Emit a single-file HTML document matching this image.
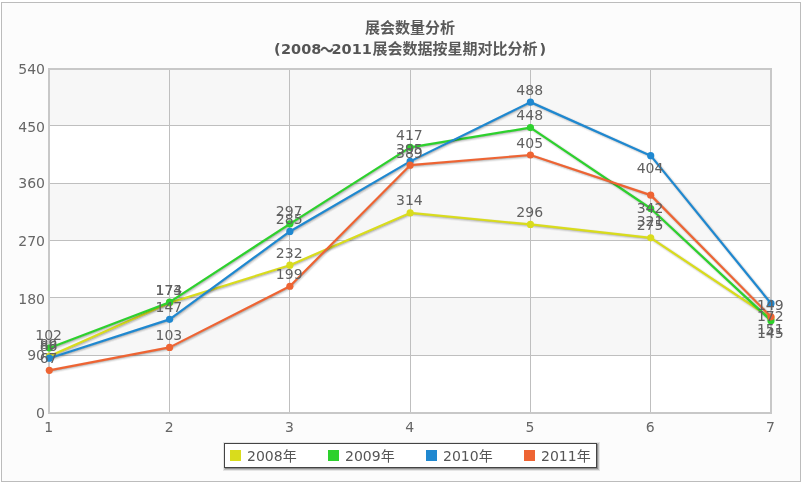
<!DOCTYPE html><html><head><meta charset="utf-8"><style>
html,body{margin:0;padding:0;background:#fff;}
svg{display:block;}
text{font-family:"DejaVu Sans", "Liberation Sans", sans-serif;}
</style></head><body>
<svg width="804" height="485" viewBox="0 0 804 485">
<rect x="0" y="0" width="804" height="485" fill="#ffffff"/>
<rect x="1.5" y="2.5" width="799" height="479" fill="#fcfcfc" stroke="#bcbcbc" stroke-width="1"/>
<text x="410" y="33" text-anchor="middle" font-size="15" font-weight="bold" fill="#5a5a5a" letter-spacing="0" style="font-family:'DejaVu Sans', 'Noto Sans CJK SC', sans-serif">展会数量分析</text>
<g fill="#555555" font-weight="bold" font-size="14.5">
<text x="274" y="54">(</text>
<text x="281" y="54">2008</text>
<text x="331.5" y="54">2011</text>
</g>
<text font-size="14" font-weight="bold" fill="#555555" style="font-family:'DejaVu Sans', 'Noto Sans CJK SC', sans-serif" transform="translate(320,56.5) scale(1.0,1.35)">～</text>
<text x="372.5" y="54" font-size="15" font-weight="bold" fill="#5a5a5a" letter-spacing="0" style="font-family:'DejaVu Sans', 'Noto Sans CJK SC', sans-serif">展会数据按星期对比分析</text>
<text x="539.5" y="54" font-size="14.5" font-weight="bold" fill="#555555">)</text>
<rect x="49" y="69" width="722" height="344" fill="#ffffff"/>
<rect x="49" y="69" width="722" height="57" fill="#f7f7f7"/>
<rect x="49" y="183" width="722" height="58" fill="#f7f7f7"/>
<rect x="49" y="297" width="722" height="59" fill="#f7f7f7"/>
<rect x="49" y="355" width="722" height="1" fill="#bfbfbf"/>
<rect x="49" y="297" width="722" height="1" fill="#bfbfbf"/>
<rect x="49" y="240" width="722" height="1" fill="#bfbfbf"/>
<rect x="49" y="183" width="722" height="1" fill="#bfbfbf"/>
<rect x="49" y="125" width="722" height="1" fill="#bfbfbf"/>
<rect x="169" y="69" width="1" height="344" fill="#bfbfbf"/>
<rect x="289" y="69" width="1" height="344" fill="#bfbfbf"/>
<rect x="410" y="69" width="1" height="344" fill="#bfbfbf"/>
<rect x="530" y="69" width="1" height="344" fill="#bfbfbf"/>
<rect x="650" y="69" width="1" height="344" fill="#bfbfbf"/>
<rect x="49" y="69" width="722" height="344" fill="none" stroke="#c8c8c8" stroke-width="2"/>
<text x="45" y="74" text-anchor="end" font-size="14" fill="#666666">540</text>
<text x="45" y="132" text-anchor="end" font-size="14" fill="#666666">450</text>
<text x="45" y="188" text-anchor="end" font-size="14" fill="#666666">360</text>
<text x="45" y="246" text-anchor="end" font-size="14" fill="#666666">270</text>
<text x="45" y="304" text-anchor="end" font-size="14" fill="#666666">180</text>
<text x="45" y="360" text-anchor="end" font-size="14" fill="#666666">90</text>
<text x="45" y="418" text-anchor="end" font-size="14" fill="#666666">0</text>
<text x="48.8" y="432" text-anchor="middle" font-size="14" fill="#666666">1</text>
<text x="169.1" y="432" text-anchor="middle" font-size="14" fill="#666666">2</text>
<text x="289.4" y="432" text-anchor="middle" font-size="14" fill="#666666">3</text>
<text x="409.6" y="432" text-anchor="middle" font-size="14" fill="#666666">4</text>
<text x="529.9" y="432" text-anchor="middle" font-size="14" fill="#666666">5</text>
<text x="650.2" y="432" text-anchor="middle" font-size="14" fill="#666666">6</text>
<text x="770.5" y="432" text-anchor="middle" font-size="14" fill="#666666">7</text>
<polyline points="49.30,356.30 169.58,302.79 289.86,265.21 410.14,212.97 530.42,224.44 650.70,237.81 770.98,318.08" fill="none" stroke="#000" stroke-opacity="0.05" stroke-width="5" stroke-linejoin="round" stroke-linecap="round" transform="translate(1,1)"/>
<polyline points="49.30,356.30 169.58,302.79 289.86,265.21 410.14,212.97 530.42,224.44 650.70,237.81 770.98,318.08" fill="none" stroke="#000" stroke-opacity="0.10" stroke-width="3" stroke-linejoin="round" stroke-linecap="round" transform="translate(1,1)"/>
<polyline points="49.30,356.30 169.58,302.79 289.86,265.21 410.14,212.97 530.42,224.44 650.70,237.81 770.98,318.08" fill="none" stroke="#000" stroke-opacity="0.15" stroke-width="1" stroke-linejoin="round" stroke-linecap="round" transform="translate(1,1)"/>
<polyline points="49.30,356.30 169.58,302.79 289.86,265.21 410.14,212.97 530.42,224.44 650.70,237.81 770.98,318.08" fill="none" stroke="#d9dc1c" stroke-width="2.2" stroke-linejoin="round" stroke-linecap="round"/>
<circle cx="49.30" cy="356.30" r="3.6" fill="#d9dc1c"/>
<circle cx="169.58" cy="302.79" r="3.6" fill="#d9dc1c"/>
<circle cx="289.86" cy="265.21" r="3.6" fill="#d9dc1c"/>
<circle cx="410.14" cy="212.97" r="3.6" fill="#d9dc1c"/>
<circle cx="530.42" cy="224.44" r="3.6" fill="#d9dc1c"/>
<circle cx="650.70" cy="237.81" r="3.6" fill="#d9dc1c"/>
<circle cx="770.98" cy="318.08" r="3.6" fill="#d9dc1c"/>
<polyline points="49.30,348.02 169.58,302.16 289.86,223.80 410.14,147.36 530.42,127.61 650.70,208.51 770.98,320.63" fill="none" stroke="#000" stroke-opacity="0.05" stroke-width="5" stroke-linejoin="round" stroke-linecap="round" transform="translate(1,1)"/>
<polyline points="49.30,348.02 169.58,302.16 289.86,223.80 410.14,147.36 530.42,127.61 650.70,208.51 770.98,320.63" fill="none" stroke="#000" stroke-opacity="0.10" stroke-width="3" stroke-linejoin="round" stroke-linecap="round" transform="translate(1,1)"/>
<polyline points="49.30,348.02 169.58,302.16 289.86,223.80 410.14,147.36 530.42,127.61 650.70,208.51 770.98,320.63" fill="none" stroke="#000" stroke-opacity="0.15" stroke-width="1" stroke-linejoin="round" stroke-linecap="round" transform="translate(1,1)"/>
<polyline points="49.30,348.02 169.58,302.16 289.86,223.80 410.14,147.36 530.42,127.61 650.70,208.51 770.98,320.63" fill="none" stroke="#2dd12d" stroke-width="2.2" stroke-linejoin="round" stroke-linecap="round"/>
<circle cx="49.30" cy="348.02" r="3.6" fill="#2dd12d"/>
<circle cx="169.58" cy="302.16" r="3.6" fill="#2dd12d"/>
<circle cx="289.86" cy="223.80" r="3.6" fill="#2dd12d"/>
<circle cx="410.14" cy="147.36" r="3.6" fill="#2dd12d"/>
<circle cx="530.42" cy="127.61" r="3.6" fill="#2dd12d"/>
<circle cx="650.70" cy="208.51" r="3.6" fill="#2dd12d"/>
<circle cx="770.98" cy="320.63" r="3.6" fill="#2dd12d"/>
<polyline points="49.30,358.21 169.58,319.36 289.86,231.44 410.14,161.37 530.42,102.13 650.70,155.64 770.98,303.43" fill="none" stroke="#000" stroke-opacity="0.05" stroke-width="5" stroke-linejoin="round" stroke-linecap="round" transform="translate(1,1)"/>
<polyline points="49.30,358.21 169.58,319.36 289.86,231.44 410.14,161.37 530.42,102.13 650.70,155.64 770.98,303.43" fill="none" stroke="#000" stroke-opacity="0.10" stroke-width="3" stroke-linejoin="round" stroke-linecap="round" transform="translate(1,1)"/>
<polyline points="49.30,358.21 169.58,319.36 289.86,231.44 410.14,161.37 530.42,102.13 650.70,155.64 770.98,303.43" fill="none" stroke="#000" stroke-opacity="0.15" stroke-width="1" stroke-linejoin="round" stroke-linecap="round" transform="translate(1,1)"/>
<polyline points="49.30,358.21 169.58,319.36 289.86,231.44 410.14,161.37 530.42,102.13 650.70,155.64 770.98,303.43" fill="none" stroke="#1f88d0" stroke-width="2.2" stroke-linejoin="round" stroke-linecap="round"/>
<circle cx="49.30" cy="358.21" r="3.6" fill="#1f88d0"/>
<circle cx="169.58" cy="319.36" r="3.6" fill="#1f88d0"/>
<circle cx="289.86" cy="231.44" r="3.6" fill="#1f88d0"/>
<circle cx="410.14" cy="161.37" r="3.6" fill="#1f88d0"/>
<circle cx="530.42" cy="102.13" r="3.6" fill="#1f88d0"/>
<circle cx="650.70" cy="155.64" r="3.6" fill="#1f88d0"/>
<circle cx="770.98" cy="303.43" r="3.6" fill="#1f88d0"/>
<polyline points="49.30,370.32 169.58,347.39 289.86,286.23 410.14,165.19 530.42,155.00 650.70,195.13 770.98,316.81" fill="none" stroke="#000" stroke-opacity="0.05" stroke-width="5" stroke-linejoin="round" stroke-linecap="round" transform="translate(1,1)"/>
<polyline points="49.30,370.32 169.58,347.39 289.86,286.23 410.14,165.19 530.42,155.00 650.70,195.13 770.98,316.81" fill="none" stroke="#000" stroke-opacity="0.10" stroke-width="3" stroke-linejoin="round" stroke-linecap="round" transform="translate(1,1)"/>
<polyline points="49.30,370.32 169.58,347.39 289.86,286.23 410.14,165.19 530.42,155.00 650.70,195.13 770.98,316.81" fill="none" stroke="#000" stroke-opacity="0.15" stroke-width="1" stroke-linejoin="round" stroke-linecap="round" transform="translate(1,1)"/>
<polyline points="49.30,370.32 169.58,347.39 289.86,286.23 410.14,165.19 530.42,155.00 650.70,195.13 770.98,316.81" fill="none" stroke="#ee6433" stroke-width="2.2" stroke-linejoin="round" stroke-linecap="round"/>
<circle cx="49.30" cy="370.32" r="3.6" fill="#ee6433"/>
<circle cx="169.58" cy="347.39" r="3.6" fill="#ee6433"/>
<circle cx="289.86" cy="286.23" r="3.6" fill="#ee6433"/>
<circle cx="410.14" cy="165.19" r="3.6" fill="#ee6433"/>
<circle cx="530.42" cy="155.00" r="3.6" fill="#ee6433"/>
<circle cx="650.70" cy="195.13" r="3.6" fill="#ee6433"/>
<circle cx="770.98" cy="316.81" r="3.6" fill="#ee6433"/>
<text x="48.6" y="349.0" text-anchor="middle" font-size="14" fill="#606060">89</text>
<text x="168.9" y="295.0" text-anchor="middle" font-size="14" fill="#606060">173</text>
<text x="289.2" y="258.0" text-anchor="middle" font-size="14" fill="#606060">232</text>
<text x="409.4" y="205.0" text-anchor="middle" font-size="14" fill="#606060">314</text>
<text x="529.7" y="217.0" text-anchor="middle" font-size="14" fill="#606060">296</text>
<text x="650.0" y="230.0" text-anchor="middle" font-size="14" fill="#606060">275</text>
<text x="770.3" y="310.0" text-anchor="middle" font-size="14" fill="#606060">149</text>
<text x="48.6" y="340.0" text-anchor="middle" font-size="14" fill="#606060">102</text>
<text x="168.9" y="295.0" text-anchor="middle" font-size="14" fill="#606060">174</text>
<text x="289.2" y="216.0" text-anchor="middle" font-size="14" fill="#606060">297</text>
<text x="409.4" y="140.0" text-anchor="middle" font-size="14" fill="#606060">417</text>
<text x="529.7" y="120.0" text-anchor="middle" font-size="14" fill="#606060">448</text>
<text x="650.0" y="226.0" text-anchor="middle" font-size="14" fill="#606060">321</text>
<text x="770.3" y="338.0" text-anchor="middle" font-size="14" fill="#606060">145</text>
<text x="48.6" y="351.0" text-anchor="middle" font-size="14" fill="#606060">86</text>
<text x="168.9" y="312.0" text-anchor="middle" font-size="14" fill="#606060">147</text>
<text x="289.2" y="224.0" text-anchor="middle" font-size="14" fill="#606060">285</text>
<text x="409.4" y="154.0" text-anchor="middle" font-size="14" fill="#606060">395</text>
<text x="529.7" y="95.0" text-anchor="middle" font-size="14" fill="#606060">488</text>
<text x="650.0" y="173.0" text-anchor="middle" font-size="14" fill="#606060">404</text>
<text x="770.3" y="321.0" text-anchor="middle" font-size="14" fill="#606060">172</text>
<text x="48.6" y="363.0" text-anchor="middle" font-size="14" fill="#606060">67</text>
<text x="168.9" y="340.0" text-anchor="middle" font-size="14" fill="#606060">103</text>
<text x="289.2" y="279.0" text-anchor="middle" font-size="14" fill="#606060">199</text>
<text x="409.4" y="158.0" text-anchor="middle" font-size="14" fill="#606060">389</text>
<text x="529.7" y="148.0" text-anchor="middle" font-size="14" fill="#606060">405</text>
<text x="650.0" y="213.0" text-anchor="middle" font-size="14" fill="#606060">342</text>
<text x="770.3" y="334.0" text-anchor="middle" font-size="14" fill="#606060">151</text>

<g transform="translate(1,1)" fill="none" stroke="#000"><rect x="224.5" y="443.5" width="372" height="24" stroke-opacity="0.09" stroke-width="5"/><rect x="224.5" y="443.5" width="372" height="24" stroke-opacity="0.17" stroke-width="3"/><rect x="224.5" y="443.5" width="372" height="24" stroke-opacity="0.25" stroke-width="1"/></g><rect x="224.5" y="443.5" width="372" height="24" fill="#ffffff" stroke="#444444" stroke-width="1"/>
<rect x="230" y="450" width="11" height="11" fill="#d9dc1c"/>
<text x="247" y="461" font-size="14" fill="#555555" style="font-family:'DejaVu Sans', 'Noto Sans CJK SC', sans-serif">2008年</text>
<rect x="328" y="450" width="11" height="11" fill="#2dd12d"/>
<text x="345" y="461" font-size="14" fill="#555555" style="font-family:'DejaVu Sans', 'Noto Sans CJK SC', sans-serif">2009年</text>
<rect x="426" y="450" width="11" height="11" fill="#1f88d0"/>
<text x="443" y="461" font-size="14" fill="#555555" style="font-family:'DejaVu Sans', 'Noto Sans CJK SC', sans-serif">2010年</text>
<rect x="524" y="450" width="11" height="11" fill="#ee6433"/>
<text x="541" y="461" font-size="14" fill="#555555" style="font-family:'DejaVu Sans', 'Noto Sans CJK SC', sans-serif">2011年</text>
</svg></body></html>
